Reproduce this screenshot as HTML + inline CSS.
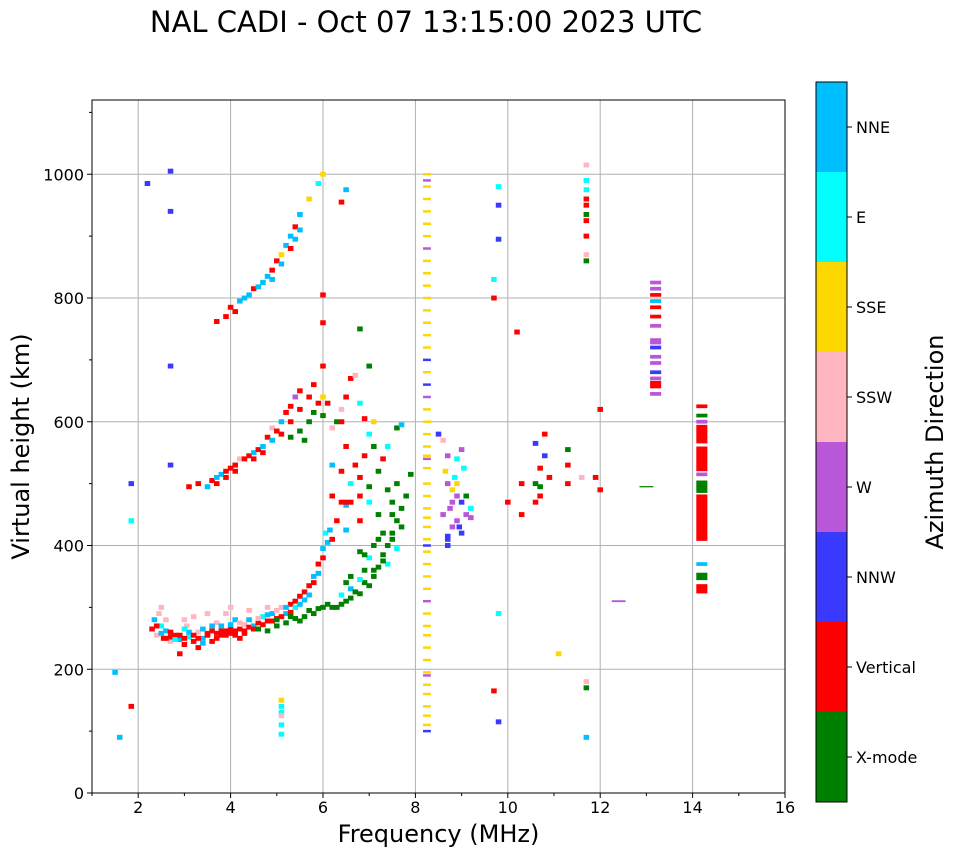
<!DOCTYPE html>
<html><head><meta charset="utf-8"><style>
body{margin:0;background:#fff;}
svg{display:block;font-family:"DejaVu Sans","Liberation Sans",sans-serif;}
</style></head><body>
<svg id="chart" width="958" height="857" viewBox="0 0 958 857">
<text x="426" y="32" font-size="29" text-anchor="middle">NAL CADI - Oct 07 13:15:00 2023 UTC</text>
<g id="grid"></g><g id="marks"></g><g id="axes"></g><g id="cbar"></g>
</svg>
<script>
const colorNames=["X-mode","Vertical","NNW","W","SSW","SSE","E","NNE"];
const colors=["#008000","#ff0000","#3a3aff","#b858d8","#ffb6c1","#ffd700","#00ffff","#00bfff"];
const xTicks=[2,4,6,8,10,12,14,16];
const yTicks=[0,200,400,600,800,1000];
// points: [freqMHz, heightKm, directionIndex, (heightSpanKm), (freqSpanMHz)]
const oTrace=[[2.3,265,1],[2.35,280,7],[2.4,255,4],[2.45,290,4],[2.5,270,6],[2.55,250,1],[2.6,262,7],[2.7,245,4],[2.8,255,1],[2.9,248,7],[3.0,240,1],[3.05,270,4],[3.1,252,6],[3.2,245,1],[3.3,260,4],[3.4,250,7],[3.5,258,1],[3.6,262,1],[3.7,275,4],[3.8,255,1],[3.9,262,1],[4.0,258,1],[4.1,280,7],[4.2,265,1],[4.3,272,4],[4.4,268,1],[4.5,270,7],[4.6,275,1],[4.7,285,6],[4.8,278,1],[4.9,290,7],[5.0,282,1],[5.1,300,4],[5.2,290,7],[5.3,305,1],[5.4,300,6],[5.5,318,1],[5.6,312,7],[5.7,335,1],[5.8,350,7],[5.9,370,1],[6.0,395,7],[6.05,420,6],[6.15,425,7],[6.3,440,1],[6.4,470,1],[6.5,465,7],[6.6,470,1],[2.5,300,4],[3.0,280,4],[3.5,290,4],[4.0,300,4],[3.3,235,1],[3.6,245,1],[4.2,250,1],[2.9,225,1],[3.8,262,1],[4.0,265,1],[3.4,242,7],[2.7,260,1],
[2.4,270,1],[2.5,258,7],[2.6,250,1],[2.7,252,1],[2.8,248,6],[2.9,255,1],[3.0,250,1],[3.1,260,7],[3.2,255,1],[3.3,250,1],[3.4,265,7],[3.5,255,1],[3.6,270,7],[3.7,258,1],[3.8,270,7],[3.9,255,1],[4.0,272,7],[4.1,262,1],[4.2,275,4],[4.3,262,1],[4.4,280,7],[4.5,265,1],[4.6,282,4],[4.7,272,1],[4.8,288,7],[4.9,278,1],[5.0,295,4],[5.1,285,1],[5.2,300,7],[5.3,292,1],[5.4,310,1],[5.5,305,7],[5.6,325,1],[5.7,320,7],[5.8,340,1],[5.9,355,7],[6.0,380,1],[6.1,405,7],[6.2,410,1],[2.6,280,4],[3.2,285,4],[3.9,290,4],[4.4,295,4],[4.8,300,4],[3.0,265,6],[3.7,250,1],[4.1,255,1],[4.3,258,1]];
const xTrace=[[4.6,265,0],[4.8,262,0],[5.0,270,0],[5.2,275,0],[5.4,282,0],[5.6,285,0],[5.8,290,0],[6.0,300,0],[6.2,300,0],[6.4,305,0],[6.6,315,0],[6.8,322,0],[7.0,335,0],[7.1,350,0],[7.2,365,0],[7.3,385,0],[7.4,400,0],[7.5,420,0],[7.6,440,0],[7.7,460,0],[7.8,480,0],[7.9,515,0],[6.5,340,0],[6.9,360,0],[7.2,410,0],[6.8,390,0],[7.6,395,6],[7.4,370,6],[7.0,380,6],[6.6,330,7],
[5.0,280,0],[5.3,285,0],[5.5,278,0],[5.7,295,0],[5.9,298,0],[6.1,305,0],[6.3,300,0],[6.5,310,0],[6.7,325,0],[6.9,340,0],[7.1,360,0],[7.3,375,0],[7.5,410,0],[7.7,430,0],[6.6,350,0],[6.9,385,0],[7.1,400,0],[7.3,420,0],[7.5,450,0],[6.4,320,6],[6.8,345,6]];
const hop2=[[3.1,495,1],[3.3,500,1],[3.5,495,7],[3.6,505,1],[3.7,500,1],[3.8,515,7],[3.9,510,1],[4.0,525,1],[4.1,530,1],[4.2,540,4],[4.4,545,1],[4.5,550,7],[4.6,555,1],[4.7,560,7],[4.8,575,1],[4.9,590,4],[5.0,585,1],[5.1,600,7],[5.2,615,1],[5.3,625,1],[5.4,640,3],[5.5,650,1],[5.3,575,0],[5.5,585,0],[5.7,600,0],[5.8,615,0],[5.9,630,1],[5.6,570,0],[6.0,610,0],
[3.7,510,7],[3.9,520,1],[4.1,520,1],[4.3,540,1],[4.5,540,1],[4.7,550,1],[4.9,570,7],[5.1,580,1],[5.3,600,1],[5.5,620,1],[5.7,640,1],[5.8,660,1]];
const hop3=[[3.7,762,1],[3.9,770,1],[4.0,785,1],[4.2,795,7],[4.4,805,7],[4.5,815,1],[4.7,825,7],[4.8,835,7],[4.9,845,1],[5.0,860,1],[5.1,870,5],[5.2,885,7],[5.3,900,7],[5.4,915,1],[5.5,935,7],[5.7,960,5],[5.9,985,6],[6.0,1000,5],
[4.1,778,1],[4.3,800,7],[4.6,818,7],[4.9,830,7],[5.1,855,7],[5.3,880,1],[5.4,895,7],[5.5,910,7]];
const scatter=[[6.0,760,1],[6.0,805,1],[6.0,690,1],[6.0,640,5],[6.1,630,1],[6.2,590,4],[6.3,600,0],[6.4,620,4],[6.5,640,1],[6.6,670,1],[6.7,675,4],[6.8,630,6],[6.9,605,1],[7.0,580,6],[6.5,560,1],[6.7,530,1],[7.0,690,0],[6.8,750,0],[7.1,560,0],[7.3,540,1],[7.6,590,0],[6.2,530,7],[6.4,520,1],[6.6,500,6],[6.8,480,1],[7.0,495,0],[7.2,450,0],[7.5,470,0],[6.5,975,7],[6.4,955,1],[6.5,425,7],[6.8,440,1],[7.4,560,6],[7.7,595,7],[7.6,500,0],[7.1,600,5],[1.5,195,7],[1.6,90,7],[1.85,140,1],[2.7,1005,2],[2.2,985,2],[2.7,940,2],[5.1,150,5],[5.1,130,6],[5.1,110,6],[5.1,95,6],[5.1,125,4],[5.1,140,6],[1.85,500,2],[1.85,440,6],[2.7,690,2],[2.7,530,2],
[6.5,470,1],[6.8,510,1],[7.0,470,6],[7.4,490,0],[7.2,520,0],[6.9,545,1],[6.4,600,1],[6.2,480,1]];
const col82H=[100,110,125,140,160,175,190,195,215,235,255,270,290,310,330,350,370,390,400,410,430,445,460,480,500,525,540,545,560,580,600,620,640,660,680,700,720,740,760,780,800,820,840,860,880,900,920,940,960,980,990,1000];
const col82C=[2,5,5,5,5,5,3,5,5,5,5,5,5,3,5,5,5,5,2,5,5,5,5,5,5,5,3,5,5,5,5,5,3,2,5,2,5,5,5,5,5,5,5,5,3,5,5,5,5,5,3,5];
const cluster=[[8.5,580,2],[8.6,570,4],[8.7,545,3],[8.65,520,5],[8.7,500,3],[8.8,490,5],[8.85,510,6],[8.9,480,3],[8.7,415,2],[8.7,400,2],[8.9,440,3],[8.95,430,2],[9.0,420,2],[9.0,470,2],[9.1,450,3],[9.1,480,0],[9.2,460,6],[9.0,555,3],[8.75,460,3],[8.6,450,3],[8.8,430,3],[9.05,525,6],[8.9,540,6],[9.2,445,3],[8.7,410,2],[8.9,500,5],[8.8,470,3]];
const right=[[10.2,745,1],[10.3,500,1],[10.3,450,1],[10.6,500,0],[10.6,470,1],[10.7,525,1],[10.8,545,2],[10.7,480,1],[10.6,565,2],[10.8,580,1],[10.9,510,1],[10.7,495,0],[11.3,530,1],[11.3,500,1],[11.3,555,0],[11.6,510,4],[11.9,510,1],[12.0,490,1],[12.0,620,1],[13.0,495,0,2,0.3],[12.4,310,3,3,0.3],[11.1,225,5],[9.7,165,1],[9.8,115,2],[9.8,895,2],[9.8,980,6],[9.8,950,2],[9.7,800,1],[9.7,830,6],[9.8,290,6],[10.0,470,1]];
const col117=[[11.7,1015,4],[11.7,990,6],[11.7,975,6],[11.7,960,1],[11.7,950,1],[11.7,935,0],[11.7,925,1],[11.7,900,1],[11.7,870,4],[11.7,860,0],[11.7,180,4],[11.7,170,0],[11.7,90,7]];
const col132=[[13.2,825,3],[13.2,815,3],[13.2,805,1],[13.2,795,7],[13.2,785,1],[13.2,770,1],[13.2,755,3],[13.2,730,3,10],[13.2,720,2],[13.2,705,3],[13.2,695,3],[13.2,680,2],[13.2,670,3],[13.2,660,1,12],[13.2,645,3]];
const col142=[[14.2,625,1],[14.2,610,0],[14.2,600,3],[14.2,580,1,30],[14.2,540,1,40],[14.2,515,3],[14.2,495,0,20],[14.2,445,1,75],[14.2,370,7],[14.2,350,0,12],[14.2,330,1,15]];

const L=92,R=785,T=100,B=793,f0=1,f1=16,h0=0,h1=1120;
const X=f=>L+(f-f0)/(f1-f0)*(R-L);
const Y=h=>B-(h-h0)/(h1-h0)*(B-T);
const NS="http://www.w3.org/2000/svg";
function mk(tag,attrs,parent){const e=document.createElementNS(NS,tag);for(const k in attrs)e.setAttribute(k,attrs[k]);parent.appendChild(e);return e;}
const grid=document.getElementById('grid'),marks=document.getElementById('marks'),axes=document.getElementById('axes'),cb=document.getElementById('cbar');
mk('rect',{x:L,y:T,width:R-L,height:B-T,fill:'#fff'},grid);
xTicks.forEach(v=>{const g=mk('line',{x1:X(v),x2:X(v),y1:T,y2:B,stroke:'#b0b0b0','stroke-width':1},grid);

});
yTicks.forEach(v=>{const g=mk('line',{x1:L,x2:R,y1:Y(v),y2:Y(v),stroke:'#b0b0b0','stroke-width':1},grid);

});
function draw(p,dh,df){const h=p[3]||dh,w=p[4]||df;
const r=mk('rect',{x:X(p[0]-w/2),y:Y(p[1]+h/2),width:X(w)-X(0),height:Y(0)-Y(h),fill:colors[p[2]]},marks);

}
[oTrace,xTrace,hop2,hop3,scatter,cluster,right,col117].forEach(a=>a.forEach(p=>draw(p,8,0.12)));
col82H.forEach((h,i)=>draw([8.25,h,col82C[i]],4,0.17));
col132.forEach(p=>draw(p,6,0.24));
col142.forEach(p=>draw(p,6,0.24));
mk('rect',{x:L,y:T,width:R-L,height:B-T,fill:'none',stroke:'#000','stroke-width':1},axes);
for(let v=1;v<=16;v++){const maj=v%2==0;mk('line',{x1:X(v),x2:X(v),y1:B,y2:B+(maj?5:3),stroke:'#000'},axes);}
xTicks.forEach(v=>{const t=mk('text',{x:X(v),y:B+20,'font-size':16,'text-anchor':'middle'},axes);t.textContent=v;

});
for(let v=0;v<=1100;v+=100){mk('line',{x1:L,x2:L-(v%200==0?5:3),y1:Y(v),y2:Y(v),stroke:'#000'},axes);}
yTicks.forEach(v=>{const t=mk('text',{x:L-8,y:Y(v)+6,'font-size':16,'text-anchor':'end'},axes);t.textContent=v;

});
const xt=mk('text',{x:(L+R)/2,y:842,'font-size':24,'text-anchor':'middle'},axes);xt.textContent='Frequency (MHz)';


const yt=mk('text',{x:29,y:(T+B)/2,'font-size':24,'text-anchor':'middle',transform:`rotate(-90 29 ${(T+B)/2})`},axes);yt.textContent='Virtual height (km)';


const cx=816,cw=31,ct=82,cbot=802,seg=(cbot-ct)/colors.length;
colors.forEach((c,i)=>{const y=cbot-(i+1)*seg;
const r=mk('rect',{x:cx,y:y,width:cw,height:seg,fill:c},cb);


mk('line',{x1:cx+cw,x2:cx+cw+5,y1:y+seg/2,y2:y+seg/2,stroke:'#000'},cb);
const t=mk('text',{x:cx+cw+9,y:y+seg/2+6,'font-size':16},cb);t.textContent=colorNames[i];

});
mk('rect',{x:cx,y:ct,width:cw,height:cbot-ct,fill:'none',stroke:'#000'},cb);
const ct2=mk('text',{x:943,y:442,'font-size':24,'text-anchor':'middle',transform:'rotate(-90 943 442)'},cb);ct2.textContent='Azimuth Direction';


</script>
</body></html>
